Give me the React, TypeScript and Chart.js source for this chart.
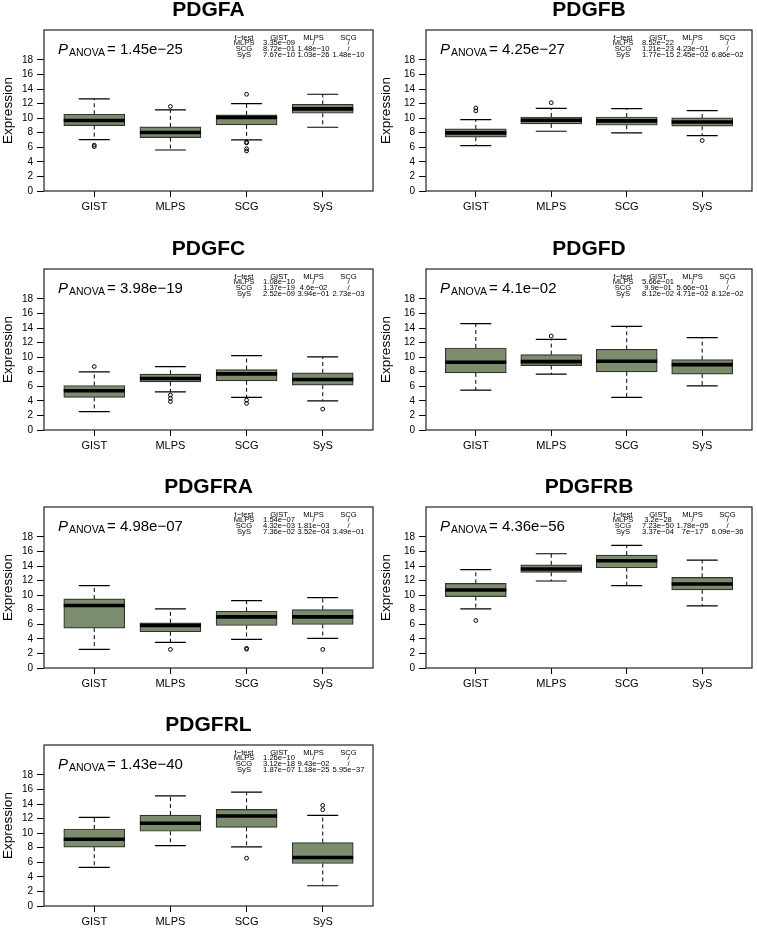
import React, { useEffect, useRef } from 'react';
import { Chart, registerables } from 'chart.js';

Chart.register(...registerables);

const categories = ['GIST', 'MLPS', 'SCG', 'SyS'];
const yTickValues = [0, 2, 4, 6, 8, 10, 12, 14, 16, 18];
const tTestHeader = ['t\u2212test', 'GIST', 'MLPS', 'SCG'];
const tTestRowLabels = ['MLPS', 'SCG', 'SyS'];

// five-number summaries per category: [lower whisker, Q1, median, Q3, upper whisker]
const PDGFA_stats = [[7.05, 8.98, 9.67, 10.54, 12.64], [5.63, 7.33, 8.02, 8.8, 11.13], [7.01, 9.07, 10.08, 10.44, 12.0], [8.75, 10.67, 11.27, 11.9, 13.28]];
const PDGFA_outliers = [[6.3, 6.1], [11.6], [13.28, 6.7, 6.6, 5.8, 5.5], []];
const PDGFA_anova = '1.45e\u221225';
const PDGFA_ttest = [['3.35e\u221209', '/', '/'], ['8.72e\u221201', '1.48e\u221210', '/'], ['7.67e\u221210', '1.03e\u221226', '1.48e\u221210']];

const PDGFB_stats = [[6.24, 7.38, 7.98, 8.52, 9.8], [8.2, 9.21, 9.71, 10.16, 11.35], [7.98, 9.02, 9.62, 10.16, 11.3], [7.61, 8.89, 9.48, 10.03, 11.03]];
const PDGFB_outliers = [[11.4, 11.0], [12.12], [], [6.93]];
const PDGFB_anova = '4.25e\u221227';
const PDGFB_ttest = [['8.52e\u221222', '/', '/'], ['1.21e\u221223', '4.23e\u221201', '/'], ['1.77e\u221215', '2.45e\u221202', '6.86e\u221202']];

const PDGFC_stats = [[2.51, 4.47, 5.38, 6.11, 7.98], [5.24, 6.61, 7.06, 7.66, 8.71], [4.47, 6.75, 7.7, 8.3, 10.21], [4.01, 6.15, 6.93, 7.84, 10.03]];
const PDGFC_outliers = [[8.71], [4.8, 4.35, 3.9], [4.1, 3.65], [2.87]];
const PDGFC_anova = '3.98e\u221219';
const PDGFC_ttest = [['1.08e\u221210', '/', '/'], ['1.37e\u221219', '4.6e\u221202', '/'], ['2.52e\u221209', '3.94e\u221201', '2.73e\u221203']];

const PDGFD_stats = [[5.47, 7.84, 9.3, 11.26, 14.59], [7.66, 8.84, 9.39, 10.35, 12.44], [4.47, 7.98, 9.43, 11.08, 14.22], [6.06, 7.66, 8.98, 9.66, 12.67]];
const PDGFD_outliers = [[], [12.9], [], []];
const PDGFD_anova = '4.1e\u221202';
const PDGFD_ttest = [['5.66e\u221201', '/', '/'], ['9.9e\u221201', '5.66e\u221201', '/'], ['8.12e\u221202', '4.71e\u221202', '8.12e\u221202']];

const PDGFRA_stats = [[2.55, 5.47, 8.57, 9.48, 11.3], [3.51, 4.97, 5.83, 6.2, 8.11], [3.92, 5.83, 7.02, 7.79, 9.25], [4.06, 5.97, 7.02, 8.02, 9.66]];
const PDGFRA_outliers = [[], [2.55], [2.7, 2.58], [2.55]];
const PDGFRA_anova = '4.98e\u221207';
const PDGFRA_ttest = [['1.54e\u221207', '/', '/'], ['4.32e\u221203', '1.81e\u221203', '/'], ['7.36e\u221202', '3.52e\u221204', '3.49e\u221201']];

const PDGFRB_stats = [[8.11, 9.8, 10.71, 11.62, 13.49], [11.94, 13.13, 13.58, 14.17, 15.68], [11.3, 13.76, 14.72, 15.5, 16.82], [8.52, 10.71, 11.53, 12.44, 14.81]];
const PDGFRB_outliers = [[6.52], [], [], []];
const PDGFRB_anova = '4.36e\u221256';
const PDGFRB_ttest = [['3.2e\u221228', '/', '/'], ['7.23e\u221250', '1.78e\u221205', '/'], ['3.37e\u221204', '7e\u221217', '6.09e\u221236']];

const PDGFRL_stats = [[5.29, 8.07, 9.16, 10.57, 12.17], [8.3, 10.26, 11.35, 12.49, 15.13], [8.11, 10.8, 12.35, 13.26, 15.63], [2.78, 5.83, 6.65, 8.71, 12.44]];
const PDGFRL_outliers = [[], [], [6.56], [13.81, 13.22]];
const PDGFRL_anova = '1.43e\u221240';
const PDGFRL_ttest = [['1.26e\u221210', '/', '/'], ['3.12e\u221218', '9.43e\u221202', '/'], ['1.87e\u221207', '1.18e\u221225', '5.95e\u221237']];

const FONT = '"Liberation Sans", Arial, Helvetica, sans-serif';
const BOX_FILL = '#7b8d6d';

type PanelProps = {
  gene: string;
  stats: number[][];
  outliers: number[][];
  anova: string;
  ttest: string[][];
  col: number;
  plotTop: number;
};

const PLOT_H = 161;
const TOP_PAD = 30;
const X_AXIS_H = 47;

function Panel({ gene, stats, outliers, anova, ttest, col, plotTop }: PanelProps) {
  const ref = useRef<HTMLCanvasElement | null>(null);
  const canvasLeft = col === 0 ? 0 : 378;
  const canvasW = col === 0 ? 378 : 379;
  const yAxisW = col === 0 ? 44 : 48;
  const padRight = col === 0 ? 2 : 1;
  const canvasTop = plotTop - TOP_PAD;
  const canvasH = TOP_PAD + PLOT_H + X_AXIS_H;

  useEffect(() => {
    if (!ref.current) return;
    const boxPlugin = {
      id: 'rbox',
      afterDatasetsDraw(chart: any) {
        const { ctx } = chart;
        const xs = chart.scales.x;
        const ys = chart.scales.y;
        ctx.save();
        stats.forEach((s, i) => {
          const xc = xs.getPixelForValue(i);
          const boxHalf = 30.5;
          const capHalf = 15.5;
          const [lo, q1, med, q3, hi] = s;
          ctx.strokeStyle = '#000';
          ctx.lineWidth = 1;
          ctx.setLineDash([4, 3]);
          ctx.beginPath();
          ctx.moveTo(xc, ys.getPixelForValue(q3));
          ctx.lineTo(xc, ys.getPixelForValue(hi));
          ctx.moveTo(xc, ys.getPixelForValue(q1));
          ctx.lineTo(xc, ys.getPixelForValue(lo));
          ctx.stroke();
          ctx.setLineDash([]);
          ctx.lineWidth = 1.2;
          ctx.beginPath();
          ctx.moveTo(xc - capHalf, ys.getPixelForValue(hi));
          ctx.lineTo(xc + capHalf, ys.getPixelForValue(hi));
          ctx.moveTo(xc - capHalf, ys.getPixelForValue(lo));
          ctx.lineTo(xc + capHalf, ys.getPixelForValue(lo));
          ctx.stroke();
          ctx.lineWidth = 3.6;
          ctx.beginPath();
          ctx.moveTo(xc - boxHalf, ys.getPixelForValue(med));
          ctx.lineTo(xc + boxHalf, ys.getPixelForValue(med));
          ctx.stroke();
        });
        ctx.restore();
      },
      afterDraw(chart: any) {
        const { ctx, chartArea } = chart;
        const { left, right, top, bottom } = chartArea;
        ctx.save();
        ctx.strokeStyle = '#333';
        ctx.lineWidth = 1.3;
        ctx.strokeRect(left, top, right - left, bottom - top);
        ctx.fillStyle = '#000';
        ctx.font = `bold 21px ${FONT}`;
        ctx.textAlign = 'center';
        ctx.textBaseline = 'alphabetic';
        ctx.fillText(gene, (left + right) / 2, top - 14);
        ctx.textAlign = 'left';
        let px = left + 14;
        ctx.font = `italic 15px ${FONT}`;
        ctx.fillText('P', px, top + 23.5);
        px += ctx.measureText('P').width + 1;
        ctx.font = `10.5px ${FONT}`;
        ctx.fillText('ANOVA', px, top + 26);
        px += ctx.measureText('ANOVA').width + 2;
        ctx.font = `15px ${FONT}`;
        ctx.fillText('= ' + anova, px, top + 23.5);
        ctx.font = `7.6px ${FONT}`;
        ctx.textAlign = 'center';
        ctx.textBaseline = 'middle';
        const colX = [right - 129, right - 94, right - 59.5, right - 24.5];
        const rowY = (k: number) => top + 7.7 + k * 5.65;
        tTestHeader.forEach((h, c) => ctx.fillText(h, colX[c], rowY(0)));
        tTestRowLabels.forEach((lab, r) => {
          ctx.fillText(lab, colX[0], rowY(r + 1));
          ttest[r].forEach((v, c) => ctx.fillText(v, colX[c + 1], rowY(r + 1)));
        });
        ctx.restore();
      },
    };

    const chart = new Chart(ref.current, {
      type: 'bar',
      data: {
        datasets: [
          {
            type: 'bar',
            data: stats.map((s, i) => ({ x: i, y: [s[1], s[3]] })) as any,
            backgroundColor: BOX_FILL,
            borderColor: '#333',
            borderWidth: 1.2,
            borderSkipped: false,
            barThickness: 61,
          } as any,
          {
            type: 'scatter',
            data: outliers.flatMap((arr, i) => arr.map((v) => ({ x: i, y: v }))),
            pointStyle: 'circle',
            pointRadius: 1.9,
            borderColor: '#000',
            borderWidth: 1,
            backgroundColor: 'rgba(0,0,0,0)',
          } as any,
        ],
      },
      options: {
        animation: false,
        responsive: false,
        events: [],
        layout: { padding: { top: TOP_PAD, right: padRight, left: 0, bottom: 0 } },
        plugins: {
          legend: { display: false },
          tooltip: { enabled: false },
          title: { display: false },
        },
        scales: {
          x: {
            type: 'linear',
            min: -0.66,
            max: 3.66,
            offset: false,
            afterBuildTicks: (s: any) => {
              s.ticks = categories.map((_, i) => ({ value: i }));
            },
            afterFit: (s: any) => {
              s.height = X_AXIS_H;
            },
            ticks: {
              callback: (v: any) => categories[v],
              font: { family: FONT, size: 11 },
              color: '#000',
              padding: 3,
              maxRotation: 0,
              autoSkip: false,
            },
            grid: {
              display: true,
              offset: false,
              drawOnChartArea: false,
              drawTicks: true,
              tickLength: 6,
              color: '#000',
              lineWidth: 1,
            },
            border: { display: false },
          },
          y: {
            type: 'linear',
            min: 0,
            max: 22.1,
            afterBuildTicks: (s: any) => {
              s.ticks = yTickValues.map((v) => ({ value: v }));
            },
            afterFit: (s: any) => {
              s.width = yAxisW;
            },
            ticks: {
              font: { family: FONT, size: 10 },
              color: '#000',
              padding: 4,
              autoSkip: false,
            },
            grid: {
              display: true,
              drawOnChartArea: false,
              drawTicks: true,
              tickLength: 7,
              color: '#000',
              lineWidth: 1,
            },
            border: { display: false },
            title: {
              display: true,
              text: 'Expression',
              font: { family: FONT, size: 13.5 },
              color: '#000',
              padding: { top: 0, bottom: 0 },
            },
          },
        },
      } as any,
      plugins: [boxPlugin],
    });
    return () => chart.destroy();
  }, []);

  return (
    <canvas
      ref={ref}
      width={canvasW}
      height={canvasH}
      style={{ position: 'absolute', left: canvasLeft, top: canvasTop, width: canvasW, height: canvasH }}
    />
  );
}

const panels: PanelProps[] = [
  { gene: 'PDGFA', stats: PDGFA_stats, outliers: PDGFA_outliers, anova: PDGFA_anova, ttest: PDGFA_ttest, col: 0, plotTop: 30 },
  { gene: 'PDGFB', stats: PDGFB_stats, outliers: PDGFB_outliers, anova: PDGFB_anova, ttest: PDGFB_ttest, col: 1, plotTop: 30 },
  { gene: 'PDGFC', stats: PDGFC_stats, outliers: PDGFC_outliers, anova: PDGFC_anova, ttest: PDGFC_ttest, col: 0, plotTop: 269 },
  { gene: 'PDGFD', stats: PDGFD_stats, outliers: PDGFD_outliers, anova: PDGFD_anova, ttest: PDGFD_ttest, col: 1, plotTop: 269 },
  { gene: 'PDGFRA', stats: PDGFRA_stats, outliers: PDGFRA_outliers, anova: PDGFRA_anova, ttest: PDGFRA_ttest, col: 0, plotTop: 507 },
  { gene: 'PDGFRB', stats: PDGFRB_stats, outliers: PDGFRB_outliers, anova: PDGFRB_anova, ttest: PDGFRB_ttest, col: 1, plotTop: 507 },
  { gene: 'PDGFRL', stats: PDGFRL_stats, outliers: PDGFRL_outliers, anova: PDGFRL_anova, ttest: PDGFRL_ttest, col: 0, plotTop: 745 },
];

export default function App() {
  return (
    <div
      style={{
        position: 'absolute',
        left: 0,
        top: 0,
        width: 757,
        height: 928,
        overflow: 'hidden',
        background: '#fff',
      }}
    >
      {panels.map((p) => (
        <Panel key={p.gene} {...p} />
      ))}
    </div>
  );
}
